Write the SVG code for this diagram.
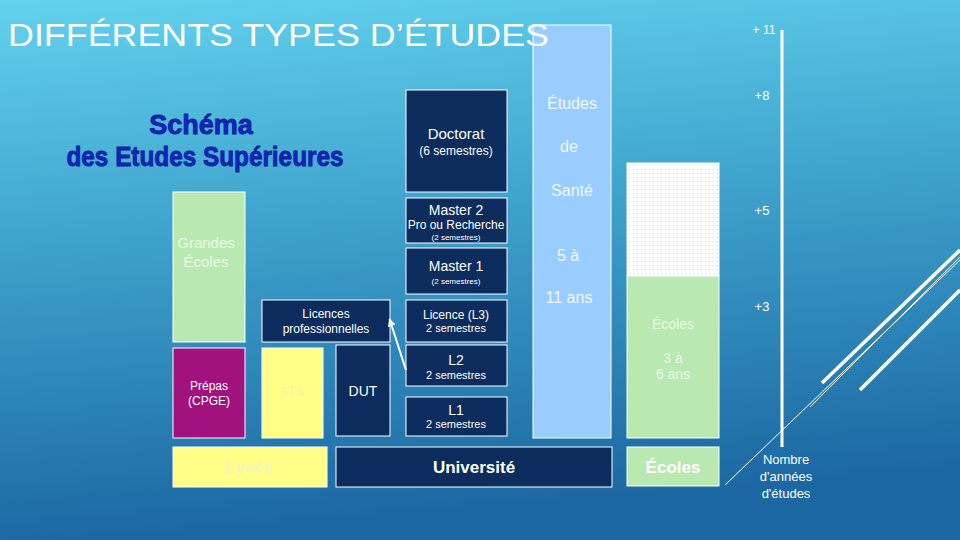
<svg xmlns="http://www.w3.org/2000/svg" width="960" height="540" viewBox="0 0 960 540">
<defs>
<linearGradient id="bg" x1="0" y1="0" x2="0.15" y2="1">
<stop offset="0" stop-color="#62d2ee"/>
<stop offset="0.45" stop-color="#3ea2cc"/>
<stop offset="1" stop-color="#1b67a2"/>
</linearGradient>
<pattern id="dots" width="4" height="4" patternUnits="userSpaceOnUse">
<rect width="4" height="4" fill="#ffffff"/>
<rect x="1" y="1" width="1" height="1" fill="#d9d2c4"/>
</pattern>
<marker id="ah" viewBox="0 0 10 10" refX="9" refY="5" markerWidth="4" markerHeight="4" orient="auto">
<path d="M0,0 L10,5 L0,10 z" fill="#ffffff"/>
</marker>
<style>
text{font-family:"Liberation Sans",Arial,sans-serif;text-anchor:middle;fill:#ffffff}
.navy{fill:#0b2c5c;stroke:#ffffff;stroke-width:1}
.green{fill:#b9e9b1;stroke:#ffffff;stroke-width:1}
.yellow{fill:#ffff88;stroke:#ffffff;stroke-width:1}
.t15{font-size:15px}
.t14{font-size:14px}
.t12{font-size:12px}
.t11{font-size:11px}
.t8{font-size:8px}
.sc{font-size:16px;fill:#f2f8ff}
.lg{fill:#eaf8e6}
.yr{font-size:13px}
.big{font-size:17px;font-weight:bold}
.hdr{font-family:"Liberation Sans",Arial,sans-serif;font-weight:bold;fill:#1125c4;stroke:#061a8a;stroke-width:0.8;font-size:27px}
</style>
</defs>
<rect width="960" height="540" fill="url(#bg)"/>
<g id="decor" stroke="#ffffff" fill="none">
<line x1="725" y1="485" x2="960" y2="260" stroke-width="1"/>
<line x1="810" y1="407" x2="960" y2="257" stroke-width="1"/>
<line x1="822" y1="383" x2="960" y2="250" stroke-width="3.5"/>
<line x1="860" y1="390" x2="960" y2="290" stroke-width="3.5"/>
</g>
<g id="heading">
<text class="hdr" x="201" y="134">Schéma</text>
<text class="hdr" x="205" y="166" textLength="277" lengthAdjust="spacingAndGlyphs">des Etudes Supérieures</text>
</g>
<g id="sante">
<rect x="533" y="25" width="78" height="413" fill="#99ccff" stroke="#ffffff" stroke-width="1"/>
<text class="sc" x="572" y="109">Études</text>
<text class="sc" x="569" y="152">de</text>
<text class="sc" x="572" y="196">Santé</text>
<text class="sc" x="568" y="261">5 à</text>
<text class="sc" x="569" y="303">11 ans</text>
</g>
<g id="doctorat">
<rect class="navy" x="406" y="90" width="101" height="102"/>
<text class="t15" x="456" y="139">Doctorat</text>
<text class="t12" x="456" y="155">(6 semestres)</text>
</g>
<g id="master2">
<rect class="navy" x="406" y="198" width="101" height="45"/>
<text class="t14" x="456" y="215">Master 2</text>
<text class="t12" x="456" y="229">Pro ou Recherche</text>
<text class="t8" x="456" y="240">(2 semestres)</text>
</g>
<g id="master1">
<rect class="navy" x="406" y="248" width="101" height="46"/>
<text class="t14" x="456" y="271">Master 1</text>
<text class="t8" x="456" y="284">(2 semestres)</text>
</g>
<g id="l3">
<rect class="navy" x="406" y="300" width="101" height="42"/>
<text class="t12" x="456" y="319">Licence (L3)</text>
<text class="t11" x="456" y="332">2 semestres</text>
</g>
<g id="l2">
<rect class="navy" x="406" y="345" width="101" height="41"/>
<text class="t14" x="456" y="365">L2</text>
<text class="t11" x="456" y="379">2 semestres</text>
</g>
<g id="l1">
<rect class="navy" x="406" y="397" width="101" height="39"/>
<text class="t14" x="456" y="415">L1</text>
<text class="t11" x="456" y="428">2 semestres</text>
</g>
<g id="dut">
<rect class="navy" x="336" y="345" width="54" height="91"/>
<text class="t14" x="363" y="396">DUT</text>
</g>
<g id="licpro">
<rect class="navy" x="262" y="300" width="128" height="42"/>
<text class="t12" x="326" y="318">Licences</text>
<text class="t12" x="326" y="333">professionnelles</text>
</g>
<g id="grandes-ecoles">
<rect class="green" x="173" y="192" width="72" height="150"/>
<text class="t15 lg" x="206" y="248">Grandes</text>
<text class="t15 lg" x="206" y="267">Écoles</text>
</g>
<g id="prepas">
<rect x="173" y="348" width="72" height="90" fill="#a2127f" stroke="#ffffff" stroke-width="1"/>
<text class="t12" x="209" y="390">Prépas</text>
<text class="t12" x="209" y="405">(CPGE)</text>
</g>
<g id="bts">
<rect class="yellow" x="262" y="348" width="61" height="90"/>
<text class="t12" x="292" y="396" style="fill:#f2f2a4">BTS</text>
</g>
<g id="lycee">
<rect class="yellow" x="173" y="447" width="154" height="40"/>
<text class="big" x="249" y="473" style="fill:#f5f5b8">Lycée</text>
</g>
<g id="universite">
<rect class="navy" x="336" y="447" width="276" height="40"/>
<text class="big" x="474" y="473">Université</text>
</g>
<g id="ecoles-post">
<rect x="627" y="163" width="92" height="113" fill="url(#dots)" stroke="#ffffff" stroke-width="1"/>
<rect class="green" x="627" y="276" width="92" height="162"/>
<text class="t14 lg" x="673" y="329">Écoles</text>
<text class="t14 lg" x="673" y="363">3 à</text>
<text class="t14 lg" x="673" y="379">6 ans</text>
</g>
<g id="ecoles">
<rect class="green" x="627" y="447" width="92" height="39"/>
<text class="big" x="673" y="473">Écoles</text>
</g>
<g id="axis">
<line x1="782" y1="30" x2="782" y2="447" stroke="#ffffff" stroke-width="3"/>
<text x="764" y="34" style="font-size:12px">+ 11</text>
<text class="yr" x="762" y="100">+8</text>
<text class="yr" x="762" y="215">+5</text>
<text class="yr" x="762" y="311">+3</text>
<text class="yr" x="786" y="464">Nombre</text>
<text class="yr" x="786" y="481">d'années</text>
<text class="yr" x="786" y="498">d'études</text>
</g>
<g id="connectors">
<line x1="406" y1="370" x2="389.5" y2="319" stroke="#ffffff" stroke-width="2" marker-end="url(#ah)"/>
</g>
<text x="8" y="46" style="font-size:32px;text-anchor:start" textLength="541" lengthAdjust="spacingAndGlyphs">DIFFÉRENTS TYPES D’ÉTUDES</text>
</svg>
